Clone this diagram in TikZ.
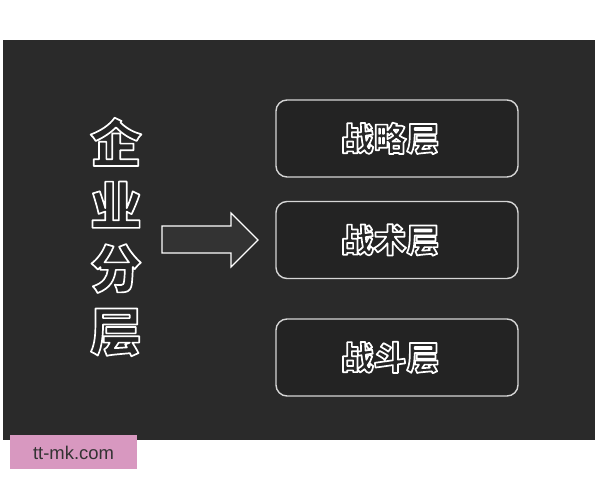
\documentclass[tikz,border=0pt]{standalone}
\usepackage{fontspec}
\setsansfont{Liberation Sans}
\newfontfamily\cjk{Noto Sans CJK SC Black}
\usetikzlibrary{positioning}
\definecolor{boardgray}{HTML}{2A2A2A}
\definecolor{boxfill}{HTML}{232323}
\definecolor{boxline}{HTML}{D6D6D6}
\definecolor{arrowgray}{HTML}{333333}
\definecolor{glyphfill}{HTML}{262626}
\definecolor{markpink}{HTML}{D898C0}
\definecolor{markgray}{HTML}{333333}
% outlined glyphs: dark inside, white stroke (text render mode 2)
\newcommand\ringtext[1]{%
  {\color{glyphfill}%
   \special{x:gsave}%
   \special{pdf:literal 2 Tr 1.7 w 1 j 1 J 1 1 1 RG}%
   #1%
   \special{x:grestore}}}
\tikzset{
  layerbox/.style={draw=boxline, line width=1.4bp, fill=boxfill,
    rounded corners=11bp, minimum width=242bp, minimum height=77bp},
  layertext/.style={font=\cjk\fontsize{33}{33}\selectfont, inner sep=0},
  titletext/.style={font=\cjk\fontsize{52}{63}\selectfont,
    align=center, inner sep=0},
  blockarrow/.style={draw=white, line width=1.2bp, fill=arrowgray, line join=miter},
  marktext/.style={font=\sffamily\fontsize{18.5}{18.5}\selectfont, text=markgray}
}

\begin{document}
\begin{tikzpicture}[x=1bp,y=1bp]
  \useasboundingbox (0,0) rectangle (600,480);
  % Dark board behind everything
  \fill[boardgray] (3,40) rectangle (595,440);
  % Vertical title on the left
  \node[titletext] (title) at (116,243)
    {\ringtext{企}\\\ringtext{业}\\\ringtext{分}\\\ringtext{层}};
  % Block arrow pointing at the layers
  \draw[blockarrow] (162,227) -- (231,227) -- (231,213) -- (258,240)
    -- (231,267) -- (231,254) -- (162,254) -- cycle;
  % The three layer boxes
  \node[layerbox] (strategic) at (397,341.5) {};
  \node[layerbox] (tactical) at (397,240) {};
  \node[layerbox] (combat) at (397,122.5) {};
  % Labels inside the boxes
  \foreach \boxname/\boxlabel in {strategic/战略层, tactical/战术层, combat/战斗层}
    \node[layertext] at ([xshift=-7]\boxname.center) {\ringtext{\boxlabel}};
  % Watermark tag
  \fill[markpink] (10,11) rectangle (137,45);
  \node[marktext] (mark) at (73.5,27.5) {tt-mk.com};
\end{tikzpicture}
\end{document}
